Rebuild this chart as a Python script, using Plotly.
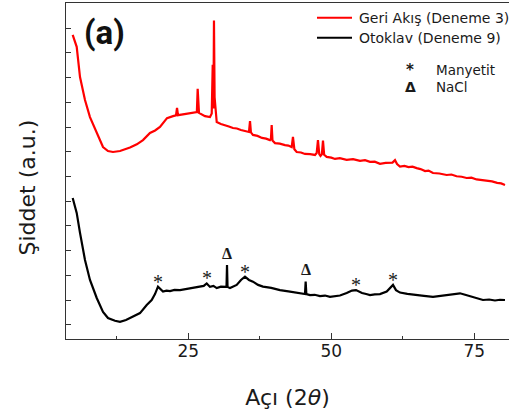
import plotly.graph_objects as go

# XRD patterns (intensity in arbitrary units, curves vertically offset)
geri_2theta = [4.79, 5.49, 6.07, 6.94, 7.81, 8.99, 10.09, 10.96, 11.84, 13.06, 14.0, 14.81, 16.0,
               17.08, 18.30, 19.2, 20.05, 21.28, 22.33, 22.85, 23.03, 23.2, 24.60, 25.5, 26.35,
               26.50, 26.64, 26.78, 26.87, 27.92, 28.79, 29.10, 29.27, 29.40, 29.49, 29.60, 29.76,
               29.97, 30.7, 31.42, 32.1, 32.81, 33.5, 34.2, 35.45, 35.61, 35.79, 35.95, 36.31, 37.1,
               37.89, 38.6, 39.28, 39.45, 39.58, 39.72, 40.16, 41.0, 41.91, 42.5, 43.08, 43.30,
               43.55, 43.95, 44.7, 45.40, 46.3, 47.15, 47.45, 47.67, 47.90, 48.11, 48.35, 48.55,
               48.75, 49.20, 50.0, 50.65, 51.5, 52.69, 53.8, 55.02, 55.9, 56.77, 57.6, 58.51,
               59.5, 60.7, 61.14, 61.5, 62.01, 62.8, 63.5, 64.2, 64.93, 65.6, 66.4, 67.0, 67.78,
               68.9, 70.17, 71.0, 71.9, 72.8, 73.67, 74.5, 75.4, 76.3, 77.17, 78.1, 79.0, 79.7,
               80.37]
geri_int = [11.72, 11.24, 10.02, 9.09, 8.40, 7.76, 7.19, 7.03, 6.99, 7.03, 7.10, 7.17, 7.30,
            7.47, 7.76, 7.86, 8.00, 8.36, 8.44, 8.47, 8.77, 8.48, 8.53, 8.56, 8.57,
            8.60, 9.54, 8.62, 8.57, 8.44, 8.40, 8.55, 10.51, 8.75, 12.30, 9.20, 8.69,
            8.20, 8.12, 8.08, 8.02, 7.96, 7.94, 7.88, 7.82, 7.80, 8.24, 7.78, 7.68, 7.64,
            7.56, 7.53, 7.47, 7.52, 8.08, 7.45, 7.35, 7.33, 7.27, 7.25, 7.19, 7.60,
            7.10, 6.99, 6.97, 6.91, 6.90, 6.87, 6.95, 7.47, 6.90, 6.83, 6.90, 7.45,
            6.88, 6.79, 6.76, 6.71, 6.74, 6.67, 6.70, 6.63, 6.66, 6.59, 6.60, 6.51,
            6.55, 6.56, 6.66, 6.50, 6.40, 6.43, 6.38, 6.40, 6.34, 6.30, 6.22, 6.24, 6.14,
            6.12, 6.06, 6.08, 6.01, 5.99, 5.94, 5.95, 5.88, 5.86, 5.82, 5.80, 5.74, 5.72,
            5.66]

otoklav_2theta = [4.79, 5.49, 6.07, 6.94, 7.81, 8.99, 10.09, 10.96, 12.18, 13.06, 14.11, 15.34,
                  16.56, 17.73, 18.60, 19.18, 19.70, 20.58, 21.2, 21.80, 22.6, 23.55, 24.4, 25.30,
                  26.2, 27.05, 27.7, 28.22, 28.79, 29.4, 29.97, 30.7, 31.42, 31.68, 31.77, 31.86,
                  32.29, 33.46, 34.21, 34.91, 35.61, 36.31, 37.2, 38.06, 39.5, 41.03, 42.5, 43.95,
                  44.7, 45.40, 45.52, 45.64, 46.28, 47.1, 48.02, 48.9, 49.77, 50.6, 51.52, 52.69,
                  53.62, 54.32, 55.37, 56.1, 56.77, 57.6, 58.51, 59.69, 60.26, 60.79, 61.31, 62.01,
                  63.3, 64.64, 66.2, 67.78, 69.3, 70.75, 72.50, 73.4, 74.25, 75.4, 76.52, 77.6,
                  78.62, 79.5, 80.37]
otoklav_int = [5.13, 4.53, 3.72, 2.63, 1.82, 1.09, 0.53, 0.28, 0.17, 0.13, 0.20, 0.34,
               0.48, 0.81, 1.01, 1.25, 1.55, 1.35, 1.39, 1.37, 1.42, 1.41, 1.45, 1.47,
               1.51, 1.56, 1.58, 1.68, 1.54, 1.58, 1.49, 1.55, 1.54, 1.54, 2.42, 1.54,
               1.49, 1.62, 1.82, 1.95, 1.82, 1.75, 1.62, 1.55, 1.50, 1.41, 1.36, 1.29,
               1.28, 1.25, 1.75, 1.25, 1.21, 1.22, 1.17, 1.19, 1.14, 1.17, 1.19, 1.29,
               1.39, 1.41, 1.29, 1.25, 1.21, 1.24, 1.25, 1.35, 1.49, 1.62, 1.41, 1.31,
               1.26, 1.21, 1.18, 1.14, 1.18, 1.21, 1.28, 1.22, 1.17, 1.10, 1.01, 1.03,
               0.99, 1.02, 1.01]

# Phase identification on the Otoklav pattern
manyetit_2theta = [19.70, 28.22, 34.91, 54.32, 60.79]
manyetit_int = [1.55, 1.68, 1.95, 1.41, 1.62]
nacl_2theta = [31.77, 45.52]
nacl_int = [2.42, 1.75]

series_names = ["Geri Akış (Deneme 3)", "Otoklav (Deneme 9)"]
series_colors = ["#ff0000", "#000000"]

FONT = "DejaVu Sans"
INK = "#1a1a1a"
PLOT_L, PLOT_W, PLOT_B, PLOT_H = 66, 443, 339, 336


def px(xp):
    return (xp - PLOT_L) / PLOT_W


def py(yp):
    return (PLOT_B - yp) / PLOT_H


fig = go.Figure()
for xs, ys, name, color in zip([geri_2theta, otoklav_2theta], [geri_int, otoklav_int],
                               series_names, series_colors):
    fig.add_trace(go.Scatter(x=xs, y=ys, mode="lines", name=name,
                             line=dict(color=color, width=2.2), showlegend=False))

annotations = []
for x, y in zip(manyetit_2theta, manyetit_int):
    annotations.append(dict(x=x, y=y, xref="x", yref="y", text="*", showarrow=False,
                            yanchor="middle", yshift=5,
                            font=dict(family="Liberation Serif", size=20, color=INK)))
for x, y in zip(nacl_2theta, nacl_int):
    annotations.append(dict(x=x, y=y, xref="x", yref="y", text="<b>Δ</b>", showarrow=False,
                            yanchor="middle", yshift=12,
                            font=dict(family="Liberation Serif", size=16, color=INK)))

# panel label
annotations.append(dict(x=px(104), y=py(32), xref="paper", yref="paper", text="<b>(a)</b>",
                        showarrow=False, xanchor="center", yanchor="middle",
                        font=dict(family="Roboto", size=33, color="#111111")))

# series key: coloured line swatch + name
shapes = []
for i, (name, color) in enumerate(zip(series_names, series_colors)):
    yk = py(17.7 + 20 * i)
    shapes.append(dict(type="line", xref="paper", yref="paper", x0=px(317), x1=px(352),
                       y0=yk, y1=yk, line=dict(color=color, width=2)))
    annotations.append(dict(x=px(357), y=yk, xref="paper", yref="paper", text=name,
                            showarrow=False, xanchor="left", yanchor="middle",
                            font=dict(family=FONT, size=14, color=INK)))

# phase key
for i, (sym, label) in enumerate([("<b>*</b>", "Manyetit"), ("<b>Δ</b>", "NaCl")]):
    yk = py(70 + 17 * i)
    annotations.append(dict(x=px(410), y=yk, xref="paper", yref="paper", text=sym,
                            showarrow=False, xanchor="center", yanchor="middle",
                            font=dict(family=FONT, size=15 if i == 0 else 14, color=INK)))
    annotations.append(dict(x=px(434), y=yk, xref="paper", yref="paper", text=label,
                            showarrow=False, xanchor="left", yanchor="middle",
                            font=dict(family=FONT, size=13.5, color=INK)))

# y axis title
annotations.append(dict(x=px(27), y=py(187.5), xref="paper", yref="paper",
                        text="Şiddet (a.u.)", showarrow=False, textangle=-90,
                        xanchor="center", yanchor="middle",
                        font=dict(family=FONT, size=22, color=INK)))

fig.update_layout(
    width=509, height=419,
    margin=dict(l=PLOT_L, r=0, t=3, b=80),
    paper_bgcolor="white", plot_bgcolor="white",
    font=dict(family=FONT, color=INK),
    showlegend=False,
    annotations=annotations,
    shapes=shapes,
    xaxis=dict(range=[3.62, 81.07], tick0=0, dtick=25, ticks="inside", ticklen=6, tickwidth=1,
               tickcolor="#333", showline=True, linecolor="#333", linewidth=1.3, mirror=True,
               showgrid=False, zeroline=False, tickfont=dict(size=17, family=FONT),
               ticklabelstandoff=-4,
               minor=dict(ticks="inside", dtick=12.5, tick0=0, ticklen=3, tickcolor="#333"),
               title=dict(text="Açı (2<i>θ</i>)", font=dict(size=22, family=FONT), standoff=30)),
    yaxis=dict(range=[-0.566, 13.01], tick0=0, dtick=1, ticks="inside", ticklen=5, tickwidth=1,
               tickcolor="#333", showline=True, linecolor="#333", linewidth=1.3, mirror=False,
               showgrid=False, zeroline=False, showticklabels=False),
)

fig.write_html("out.html")
